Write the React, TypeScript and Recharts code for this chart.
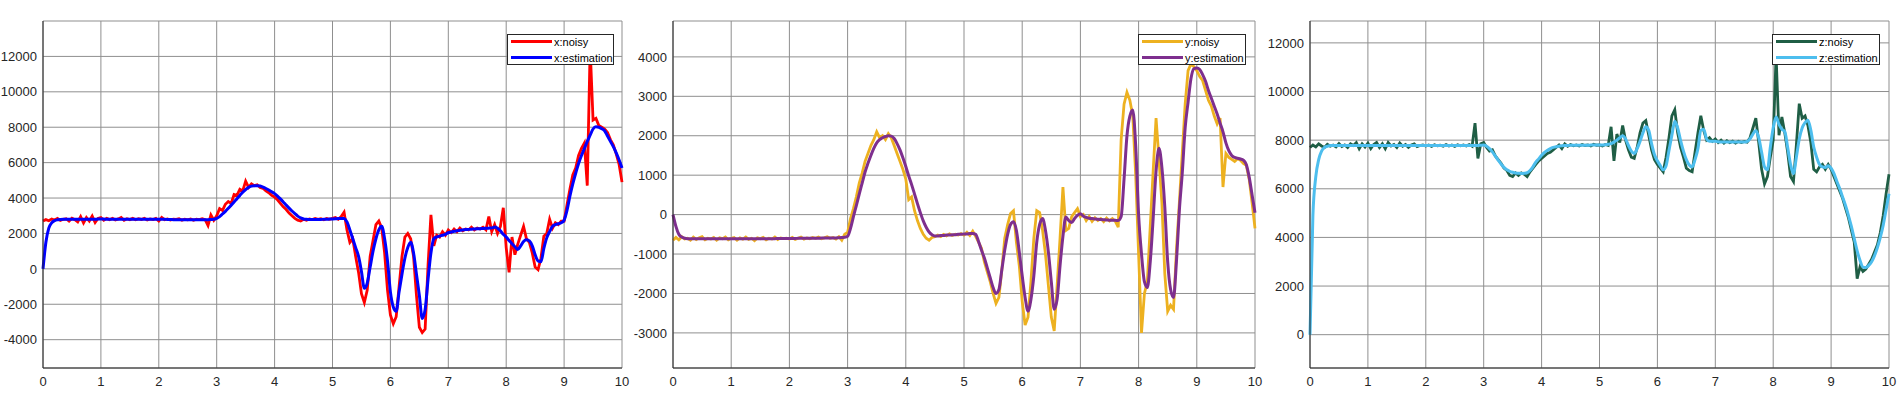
import {
  LineChart,
  Line,
  XAxis,
  YAxis,
  CartesianGrid,
  Legend,
} from "recharts";

// sample step of the recorded signals (t = 0 .. 10 s)
const STEP = 0.05;
const X_TICKS = [0, 1, 2, 3, 4, 5, 6, 7, 8, 9, 10];

const X_Y_TICKS = [-4000, -2000, 0, 2000, 4000, 6000, 8000, 10000, 12000];
const Y_Y_TICKS = [-3000, -2000, -1000, 0, 1000, 2000, 3000, 4000];
const Z_Y_TICKS = [0, 2000, 4000, 6000, 8000, 10000, 12000];

// x channel
const X_NOISY = [
  2700, 2780, 2720, 2820, 2760, 2850, 2740, 2800, 2830, 2700, 2860, 2780, 2650, 2950, 2600, 2900, 2700, 2980, 2620, 2850,
  2900, 2750, 2850, 2780, 2860, 2760, 2820, 2900, 2740, 2830, 2780, 2850, 2770, 2830, 2790, 2860, 2760, 2820, 2780, 2850,
  2700, 2900, 2780, 2820, 2760, 2810, 2790, 2830, 2750, 2800, 2770, 2820, 2740, 2800, 2780, 2830, 2780, 2450, 3050, 2750,
  3000, 3400, 3300, 3650, 3800, 3700, 4200, 4150, 4500, 4400, 4950, 4600, 4800, 4700, 4750, 4600, 4550, 4400, 4300, 4150,
  4050, 3900, 3700, 3500, 3350, 3150, 3000, 2850, 2750, 2700, 2800, 2750, 2820, 2780, 2840, 2790, 2830, 2770, 2850, 2800,
  2850, 2900, 2800, 2950, 3200, 2200, 1500, 1700, 700, -200, -1400, -1900, -1200, 700, 1600, 2500, 2700, 2300, 900, -1200,
  -2600, -3100, -2700, -1000, 700, 1800, 2000, 1700, 700, -1500, -3300, -3600, -3400, 200, 3050, 1300, 1900, 1800, 2100, 1900,
  2200, 2050, 2250, 2100, 2300, 2150, 2250, 2200, 2350, 2200, 2300, 2250, 2350, 2200, 2950, 2100, 2500, 2000, 2400, 3450,
  1200, -200, 1800, 800, 1400, 1900, 2400, 1700, 1500, 900, 100, -50, 600, 1850, 2000, 2800, 2300, 2600, 2500, 2700,
  2700, 3600, 4500, 5300, 5700, 6400, 6800, 7100, 4700, 12500, 8400, 8500, 8100, 8000, 7900, 7700, 7300, 7000, 6500, 5900,
  4900,
];
const X_EST = [
  0, 1500, 2300, 2600, 2720, 2770, 2790, 2800, 2800, 2800, 2800, 2800, 2800, 2800, 2800, 2800, 2800, 2800, 2800, 2810,
  2810, 2810, 2800, 2800, 2800, 2800, 2800, 2800, 2800, 2800, 2800, 2800, 2800, 2800, 2800, 2800, 2800, 2800, 2800, 2800,
  2800, 2800, 2800, 2790, 2790, 2780, 2780, 2780, 2780, 2780, 2780, 2780, 2780, 2780, 2780, 2780, 2780, 2780, 2790, 2800,
  2850, 2950, 3100, 3250, 3420, 3600, 3780, 3960, 4150, 4330, 4480, 4600, 4670, 4700, 4700, 4680, 4620, 4540, 4450, 4350,
  4250, 4110, 3950, 3780, 3600, 3430, 3270, 3120, 2980, 2880, 2820, 2800, 2790, 2790, 2790, 2790, 2790, 2800, 2800, 2810,
  2820, 2830, 2840, 2850, 2840, 2650, 2200, 1700, 1200, 700, -150, -1100, -800, 100, 1000, 1700, 2200, 2400, 1700, 450,
  -1300, -2150, -2400, -1300, -300, 600, 1200, 1500, 900, -300, -1500, -2800, -2300, -600, 900, 1700, 1800, 1850, 1900, 1950,
  2040, 2080, 2120, 2150, 2180, 2200, 2220, 2230, 2240, 2250, 2260, 2270, 2280, 2290, 2300, 2310, 2360, 2300, 2150, 1950,
  1800, 1600, 1420, 1250, 1100, 1300, 1550, 1650, 1580, 1300, 800, 450, 400, 1150, 1750, 2100, 2400, 2500, 2550, 2600,
  2750, 3300, 4100, 4800, 5400, 5950, 6400, 6800, 7200, 7550, 7900, 8020, 8000, 7920, 7800, 7500, 7200, 6900, 6550, 6150,
  5700,
];

// y channel
const Y_NOISY = [
  -650, -580, -640, -560, -620, -600, -650, -570, -630, -590, -560, -640, -600, -620, -580, -650, -590, -610, -570, -640,
  -600, -580, -650, -590, -620, -570, -630, -600, -660, -590, -610, -580, -640, -600, -620, -570, -630, -590, -610, -600,
  -620, -580, -630, -600, -570, -620, -590, -610, -580, -600, -570, -610, -590, -560, -600, -580, -620, -560, -650, -500,
  -450, -100, 150, 450, 800, 1050, 1350, 1550, 1750, 1900, 2100, 1950, 2000, 1900, 2050, 1950, 1750, 1550, 1350, 1150,
  900, 380, 450, 100, -150, -350, -500, -600, -650, -580, -560, -520, -560, -500, -540, -490, -530, -500, -520, -480,
  -520, -450, -530, -420, -550, -700, -850, -1200, -1450, -1700, -2000, -2250, -2100, -1400, -600, -250, 30, 100, -700, -1300,
  -2200, -2800, -2600, -1700, -600, 100, 50, -400, -1000, -1800, -2600, -2950, -1800, -600, 700, -400, -350, -50, 50, 150,
  -50, 0, -150, -50, -170, -80, -150, -100, -180, -90, -160, -100, -170, -320, 1900, 2800, 3100, 2900, 2500, 1000,
  -1000, -3000, -2000, -1700, -300, 1100, 2450, 1400, 300, -1500, -2450, -2300, -2400, -900, 300, 1550, 2800, 3650, 3820, 3750,
  3650, 3500, 3400, 3150, 2900, 2750, 2500, 2300, 2450, 700, 1550, 1450, 1400, 1350, 1420, 1380, 1300, 1250, 900, 300,
  -350,
];
const Y_EST = [
  0, -300, -500, -570, -600, -610, -610, -610, -610, -610, -610, -610, -610, -610, -610, -610, -610, -610, -610, -610,
  -610, -610, -610, -610, -610, -610, -610, -610, -610, -610, -610, -610, -610, -610, -610, -610, -605, -605, -605, -605,
  -605, -605, -605, -600, -600, -600, -600, -600, -600, -600, -600, -595, -595, -595, -590, -590, -590, -585, -580, -575,
  -550, -350, -50, 230, 520, 800, 1080, 1300, 1500, 1680, 1820, 1900, 1950, 1980, 2000, 1990, 1930, 1800, 1640, 1440,
  1220, 980, 760, 520, 280, 50, -160, -320, -440, -510, -540, -540, -530, -530, -520, -520, -510, -510, -500, -500,
  -490, -490, -480, -480, -500, -680, -900, -1100, -1350, -1600, -1850, -2000, -1900, -1400, -900, -500, -250, -180, -400, -950,
  -1550, -2100, -2450, -2150, -1550, -700, -250, -100, -400, -950, -1700, -2400, -2150, -1300, -550, -60, -150, -200, -100, -20,
  20, -40, -70, -90, -100, -110, -120, -125, -130, -135, -140, -140, -145, -150, -50, 900, 2000, 2500, 2650, 1750,
  0, -1000, -1700, -1850, -1200, -100, 1100, 1680, 1200, 200, -1200, -1900, -2100, -1200, 100, 1050, 2200, 2850, 3450, 3700,
  3720, 3680, 3550, 3380, 3150, 2950, 2750, 2550, 2320, 2100, 1820, 1620, 1500, 1450, 1430, 1410, 1380, 1270, 950, 500,
  50,
];

// z channel
const Z_NOISY = [
  7700, 7800, 7720, 7850, 7760, 7700, 7830, 7750, 7800, 7720, 7860, 7740, 7800, 7700, 7850, 7780, 7900, 7650, 7850, 7720,
  7880, 7650, 7820, 7900, 7700, 7850, 7650, 7900, 7760, 7820, 7700, 7880, 7750, 7820, 7700, 7800, 7850, 7730, 7780, 7800,
  7760, 7800, 7740, 7810, 7770, 7790, 7750, 7820, 7760, 7800, 7740, 7810, 7770, 7800, 7760, 7820, 7750, 8700, 7250, 7850,
  7900, 7700, 7550, 7600, 7350, 7200, 7050, 6850, 6750, 6550, 6500, 6650, 6550, 6650, 6600, 6500, 6700, 6850, 7000, 7150,
  7250, 7350, 7450, 7500, 7600, 7700, 7800, 7650, 7850, 7750, 7820, 7770, 7800, 7760, 7820, 7780, 7800, 7760, 7830, 7790,
  7800, 7760, 7820, 7780, 8550, 7150, 8250, 7900, 8600, 8000, 7600, 7300, 7250, 7700, 8300, 8700, 8800, 8200, 7600, 7200,
  7000, 6850, 6700, 7300, 8100, 9000, 9250, 8300, 7700, 7300, 6850, 6750, 6700, 7500, 8300, 9000, 8400, 8000, 8100, 7950,
  8050, 7900, 8000, 7880, 7980, 7900, 7960, 7880, 7950, 7900, 7950, 7920, 8100, 8500, 8900, 7900, 6800, 6200, 6500, 7300,
  8000, 11500, 8200, 8950, 8300, 7500, 6500, 6300, 7800, 9500, 8900, 9000, 8600, 7900, 6800, 6700, 6900, 7000, 6800, 7000,
  6800, 6500, 6200, 5900, 5600, 5200, 4800, 4300, 3800, 2300, 2800, 2600, 2700, 2900, 3100, 3400, 3700, 4200, 4900, 5800,
  6600,
];
const Z_EST = [
  0, 4900, 6500, 7200, 7550, 7700, 7750, 7780, 7780, 7780, 7780, 7780, 7780, 7780, 7780, 7780, 7780, 7780, 7780, 7780,
  7780, 7780, 7780, 7780, 7780, 7780, 7780, 7780, 7780, 7780, 7780, 7780, 7780, 7780, 7780, 7780, 7780, 7780, 7780, 7780,
  7780, 7780, 7780, 7780, 7780, 7780, 7780, 7780, 7780, 7780, 7780, 7780, 7780, 7780, 7780, 7780, 7780, 7780, 7780, 7790,
  7800, 7750, 7650, 7520, 7350, 7180, 7020, 6880, 6780, 6720, 6680, 6650, 6640, 6630, 6640, 6660, 6750, 6900, 7100, 7230,
  7380, 7500, 7580, 7650, 7700, 7730, 7750, 7770, 7780, 7780, 7790, 7790, 7790, 7790, 7790, 7790, 7790, 7800, 7800, 7800,
  7800, 7800, 7810, 7830, 7860, 7920, 8000, 8100, 8180, 8050, 7780, 7550, 7450, 7650, 7950, 8300, 8550, 8400, 7850, 7400,
  7150, 6950, 6780, 6950, 7580, 8200, 8780, 8500, 7990, 7550, 7200, 6980, 6900, 7200, 7650, 8400, 8450, 8050, 7950, 7950,
  7950, 7930, 7920, 7920, 7920, 7920, 7920, 7920, 7920, 7920, 7920, 7950, 8050, 8250, 8400, 8100, 7500, 6900, 6780, 7700,
  8500, 8950, 8650, 8450, 8350, 7700, 7000, 6620, 7300, 8050, 8500, 8720, 8820, 8400, 7720, 7300, 7000, 6900, 6880, 6950,
  6850, 6620, 6300, 6000, 5650, 5300, 4900, 4450, 3950, 3450, 3050, 2780, 2760, 2850, 3000, 3250, 3580, 4000, 4500, 5150,
  5800,
];

const TIME = X_EST.map((_, i) => Math.round(i * STEP * 100) / 100);

const buildRows = (noisy: number[], est: number[]) =>
  TIME.map((t, i) => ({ t, noisy: noisy[i], est: est[i] }));

const AXIS_COLOR = "#262626";
const GRID_COLOR = "#8f8f8f";
const FONT = "'Liberation Sans', Arial, Helvetica, sans-serif";
const TICK_FONT_SIZE = 13;

// tick renderers with explicit font size
function XTick({ x, y, payload }: any) {
  return (
    <text
      x={x}
      y={y}
      dy="0.72em"
      textAnchor="middle"
      fill={AXIS_COLOR}
      fontSize={TICK_FONT_SIZE}
      fontFamily={FONT}
    >
      {payload.value}
    </text>
  );
}

function YTick({ x, y, payload }: any) {
  return (
    <text
      x={x}
      y={y}
      dy="0.36em"
      textAnchor="end"
      fill={AXIS_COLOR}
      fontSize={TICK_FONT_SIZE}
      fontFamily={FONT}
    >
      {payload.value}
    </text>
  );
}

type PanelProps = {
  title: string;
  rows: { t: number; noisy: number; est: number }[];
  noisyName: string;
  estName: string;
  noisyColor: string;
  estColor: string;
  yDomain: [number, number];
  yTicks: number[];
  left: number;
  width: number;
  yAxisWidth: number;
  legendLeft: number;
  legendWidth: number;
};

function LegendBox({ payload, width, order }: any) {
  const items = [...(payload || [])].sort(
    (a: any, b: any) => order.indexOf(a.value) - order.indexOf(b.value)
  );
  return (
    <div
      style={{
        width,
        height: 31,
        background: "#fff",
        border: "1px solid #262626",
        boxSizing: "border-box",
        fontFamily: FONT,
      }}
    >
      {items.map((item: any, i: number) => (
        <div
          key={i}
          style={{
            display: "flex",
            alignItems: "center",
            height: 15,
            marginTop: i === 0 ? -1 : 1,
          }}
        >
          <span
            style={{
              display: "inline-block",
              width: 41,
              height: 3,
              marginLeft: 3,
              marginRight: 2,
              background: item.color,
            }}
          />
          <span style={{ fontSize: 11, color: "#000", whiteSpace: "nowrap" }}>
            {item.value}
          </span>
        </div>
      ))}
    </div>
  );
}

function Panel({
  title,
  rows,
  noisyName,
  estName,
  noisyColor,
  estColor,
  yDomain,
  yTicks,
  left,
  width,
  yAxisWidth,
  legendLeft,
  legendWidth,
}: PanelProps) {
  return (
    <div style={{ position: "absolute", left, top: 0 }}>
      <LineChart
        width={width}
        height={416}
        data={rows}
        margin={{ top: 21, right: 8, bottom: 0, left: 0 }}
      >
        <CartesianGrid stroke={GRID_COLOR} strokeWidth={1} />
        <XAxis
          dataKey="t"
          type="number"
          domain={[0, 10]}
          ticks={X_TICKS}
          height={48}
          tickLine={false}
          tickMargin={3}
          axisLine={{ stroke: AXIS_COLOR }}
          tick={<XTick />}
        />
        <XAxis
          xAxisId="top"
          orientation="top"
          type="number"
          domain={[0, 10]}
          ticks={X_TICKS}
          height={0}
          tick={false}
          tickLine={false}
          axisLine={{ stroke: AXIS_COLOR }}
          label={{
            value: title,
            position: "top",
            offset: 8,
            fontSize: 13,
            fill: "#000",
          }}
        />
        <YAxis
          type="number"
          domain={yDomain}
          ticks={yTicks}
          allowDataOverflow
          width={yAxisWidth}
          tickLine={false}
          tickSize={4}
          tickMargin={2}
          axisLine={{ stroke: AXIS_COLOR }}
          tick={<YTick />}
        />
        <YAxis
          yAxisId="right"
          orientation="right"
          type="number"
          domain={yDomain}
          ticks={yTicks}
          width={0}
          tick={false}
          tickLine={false}
          axisLine={{ stroke: AXIS_COLOR }}
        />
        <Line
          type="linear"
          dataKey="noisy"
          name={noisyName}
          stroke={noisyColor}
          strokeWidth={2.8}
          dot={false}
          isAnimationActive={false}
        />
        <Line
          type="monotone"
          dataKey="est"
          name={estName}
          stroke={estColor}
          strokeWidth={3}
          dot={false}
          isAnimationActive={false}
        />
        <Legend
          layout="horizontal"
          verticalAlign="middle"
          align="center"
          wrapperStyle={{ left: legendLeft, top: 34, width: legendWidth, height: 31 }}
          content={(props: any) => (
            <LegendBox {...props} width={legendWidth} order={[noisyName, estName]} />
          )}
        />
      </LineChart>
    </div>
  );
}

export default function App() {
  return (
    <div
      style={{
        position: "absolute",
        left: 0,
        top: 0,
        width: 1904,
        height: 416,
        background: "#fff",
        fontFamily: FONT,
      }}
    >
      <Panel
        title="x"
        rows={buildRows(X_NOISY, X_EST)}
        noisyName="x:noisy"
        estName="x:estimation"
        noisyColor="#ff0000"
        estColor="#0000ff"
        yDomain={[-5600, 14000]}
        yTicks={X_Y_TICKS}
        left={0}
        width={630}
        yAxisWidth={43}
        legendLeft={507}
        legendWidth={107}
      />
      <Panel
        title="y"
        rows={buildRows(Y_NOISY, Y_EST)}
        noisyName="y:noisy"
        estName="y:estimation"
        noisyColor="#edb120"
        estColor="#7e2f8e"
        yDomain={[-3890, 4910]}
        yTicks={Y_Y_TICKS}
        left={630}
        width={633}
        yAxisWidth={43}
        legendLeft={508}
        legendWidth={108}
      />
      <Panel
        title="z"
        rows={buildRows(Z_NOISY, Z_EST)}
        noisyName="z:noisy"
        estName="z:estimation"
        noisyColor="#1f5e45"
        estColor="#4dbeee"
        yDomain={[-1370, 12900]}
        yTicks={Z_Y_TICKS}
        left={1263}
        width={634}
        yAxisWidth={47}
        legendLeft={509}
        legendWidth={108}
      />
    </div>
  );
}
